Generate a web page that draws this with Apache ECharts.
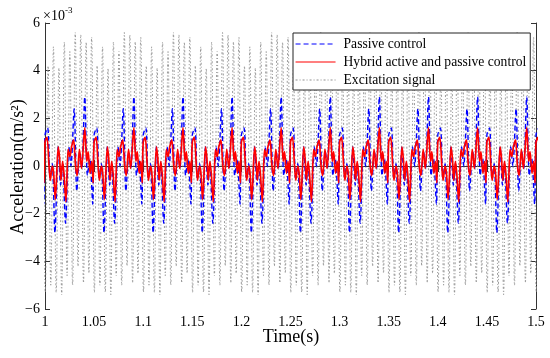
<!DOCTYPE html>
<html>
<head>
<meta charset="utf-8">
<script src="https://cdn.jsdelivr.net/npm/echarts@6/dist/echarts.min.js"></script>
<style>html,body{margin:0;padding:0;background:#fff}#c{width:550px;height:358px}</style>
</head>
<body>
<div id="c"></div>
<script>
// ---- data (values in units of 1e-3 m/s^2) ----
const PERIOD_S = 0.05;
const T_START = 1.0;
const N_PERIODS = 10;

// Passive control (blue dashed): offsets within a period (ms) and values
const passiveMs  = [0, 2.7, 5.1, 7.4, 10.1, 13.5, 15.9, 17.9, 20.9, 24.3, 26.4, 29.7, 32.4, 35.5, 37.5, 40.5, 43.2, 45.6, 48.6];
const passiveVal = [1.3, 1.6, -0.5, 0.1, -2.8, 0.8, -0.8, 0.1, -2.4, 0.8, 0.0, 2.4, -1.05, 0.6, -0.1, 2.9, -0.4, 0.3, -1.6];

// Hybrid active and passive control (red solid)
const hybridMs  = [0, 2.0, 4.1, 5.4, 7.4, 8.8, 10.5, 13.5, 14.9, 16.2, 17.9, 19.3, 21.3, 23.6, 25.3, 27.0, 29.1, 31.1, 32.8, 35.1, 37.2, 40.5, 42.6, 43.9, 45.9, 47.6, 49.0];
const hybridVal = [1.0, 1.2, 0.0, -0.6, 0.0, -0.3, -1.4, 0.8, 0.3, -0.6, 0.2, -0.3, -1.5, 0.7, 0.4, 0.8, 1.1, 0.0, -0.4, 0.7, -0.1, 1.6, 0.2, 0.6, -0.3, 0.2, -0.7];

// Excitation signal (gray dash-dot): extrema within a period (ms) and values
const excitationMs  = [0.3, 3.1, 5.9, 8.6, 11.4, 14.2, 17.0, 19.7, 22.5, 25.3, 28.1, 30.8, 33.6, 36.4, 39.2, 41.9, 44.7, 47.5];
const excitationVal = [-5.3, 4.2, -5.0, 5.0, -5.3, 4.1, -5.4, 5.2, -4.6, 4.8, -5.0, 5.6, -4.2, 5.5, -4.9, 5.2, -4.5, 5.4];

const seriesNames = ['Passive control', 'Hybrid active and passive control', 'Excitation signal'];
const xTickLabels = ['1', '1.05', '1.1', '1.15', '1.2', '1.25', '1.3', '1.35', '1.4', '1.45', '1.5'];
const yTickLabels = ['\u22126', '\u22124', '\u22122', '0', '2', '4', '6'];

function layOut(ms, vals) {
  const out = [];
  for (let k = -1; k <= N_PERIODS; k++) {
    for (let i = 0; i < ms.length; i++) {
      out.push([T_START + k * PERIOD_S + ms[i] / 1000, vals[i]]);
    }
  }
  return out;
}

const FONT = '"Liberation Serif", "Times New Roman", serif';
const chart = echarts.init(document.getElementById('c'), null, {renderer: 'canvas'});
const axisLine = {show: true, lineStyle: {color: '#333', width: 1}};
chart.setOption({
  animation: false,
  backgroundColor: '#fff',
  grid: {left: 45, right: 14, top: 23, bottom: 49, containLabel: false},
  xAxis: [{
    type: 'value', min: 1, max: 1.5, interval: 0.05,
    axisLine: axisLine, splitLine: {show: false},
    axisTick: {inside: true, length: 6, lineStyle: {color: '#333'}},
    axisLabel: {color: '#000', fontFamily: FONT, fontSize: 14, margin: 6,
      formatter: v => xTickLabels[Math.round((v - 1) / 0.05)]}
  }, {
    type: 'value', position: 'top', min: 1, max: 1.5, interval: 0.05,
    axisLine: axisLine, splitLine: {show: false},
    axisTick: {inside: true, length: 6, lineStyle: {color: '#333'}},
    axisLabel: {show: false}
  }],
  yAxis: [{
    type: 'value', min: -6, max: 6, interval: 2,
    axisLine: axisLine, splitLine: {show: false},
    axisTick: {inside: true, length: 5, lineStyle: {color: '#333'}},
    axisLabel: {color: '#000', fontFamily: FONT, fontSize: 14, margin: 5,
      formatter: v => yTickLabels[Math.round((v + 6) / 2)]}
  }, {
    type: 'value', position: 'right', min: -6, max: 6, interval: 2,
    axisLine: axisLine, splitLine: {show: false},
    axisTick: {inside: true, length: 5, lineStyle: {color: '#333'}},
    axisLabel: {show: false}
  }],
  legend: {
    data: seriesNames,
    orient: 'vertical', left: 293, top: 33,
    itemWidth: 40, itemHeight: 12, itemGap: 4,
    padding: [4, 4, 3, 2],
    borderColor: '#222', borderWidth: 1, backgroundColor: '#fff',
    itemStyle: {opacity: 0},
    lineStyle: {width: 1.1},
    textStyle: {color: '#000', fontFamily: FONT, fontSize: 13.6, padding: [0, 0, 0, 3]},
    z: 10
  },
  graphic: [
    {type: 'text', left: 43, top: 6, style: {
      text: '{a|\u00d710}{b|-3}', fill: '#000',
      rich: {a: {fontFamily: FONT, fontSize: 14, verticalAlign: 'bottom'},
             b: {fontFamily: FONT, fontSize: 9, verticalAlign: 'top', padding: [0, 0, 8, 0]}}}},
    {type: 'text', x: 18, y: 167, rotation: Math.PI / 2, style: {
      text: 'Acceleration(m/s\u00b2)', fill: '#000', fontFamily: FONT, fontSize: 18,
      align: 'center', verticalAlign: 'middle'}},
    {type: 'text', x: 291, y: 337, style: {
      text: 'Time(s)', fill: '#000', fontFamily: FONT, fontSize: 18,
      align: 'center', verticalAlign: 'middle'}}
  ],
  series: [
    {name: seriesNames[2], type: 'line', data: layOut(excitationMs, excitationVal),
     symbol: 'none', smooth: 0.4, clip: true, z: 1,
     lineStyle: {color: '#909090', width: 0.9, type: [2, 2, 1, 2]},
     itemStyle: {color: '#909090'}},
    {name: seriesNames[0], type: 'line', data: layOut(passiveMs, passiveVal),
     symbol: 'none', smooth: 0.3, clip: true, z: 2,
     lineStyle: {color: '#0000ff', width: 1.4, type: [5, 3]},
     itemStyle: {color: '#0000ff'}},
    {name: seriesNames[1], type: 'line', data: layOut(hybridMs, hybridVal),
     symbol: 'none', smooth: 0.3, clip: true, z: 3,
     lineStyle: {color: '#ff0000', width: 1.7},
     itemStyle: {color: '#ff0000'}}
  ]
});
</script>
</body>
</html>
